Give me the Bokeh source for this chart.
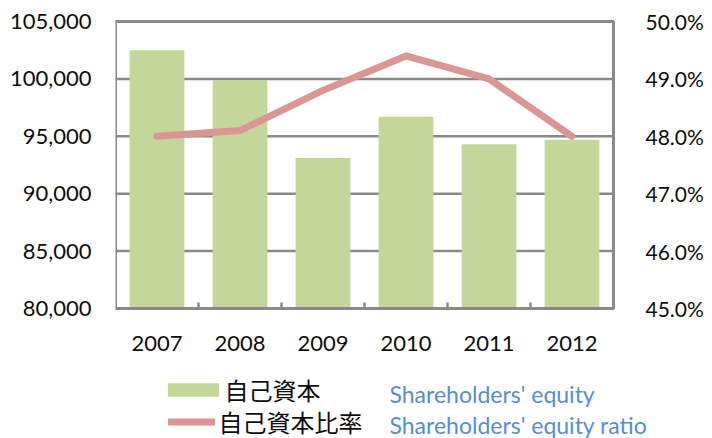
from bokeh.plotting import figure
from bokeh.models import (Range1d, LinearAxis, FixedTicker, NumeralTickFormatter,
                          PrintfTickFormatter, Label, Legend, LegendItem)
from bokeh.embed import file_html
from bokeh.resources import INLINE

# ---- data ----
years = ["2007", "2008", "2009", "2010", "2011", "2012"]
equity = [102500, 99900, 93100, 96700, 94300, 94700]
ratio = [48.0, 48.1, 48.8, 49.4, 49.0, 48.0]
left_ticks = [80000, 85000, 90000, 95000, 100000, 105000]
right_ticks = [45, 46, 47, 48, 49, 50]
legend_jp = ["自己資本", "自己資本比率"]
legend_en = ["Shareholders' equity", "Shareholders' equity ratio"]

BAR = "#C4D79B"
LINE = "#D99694"
GRID = "#898989"
TXT = "#0d0d0d"
BLUE = "#558ED5"
FONT = "Lato"
JP = "Noto Sans CJK JP"

# ---- layout (pixels) ----
W, H = 712, 438
LEFT, TOP = 115, 21
CHART_W, CHART_H = 498, 287      # the boxed chart area
EXTRA_Y = H - TOP - CHART_H      # frame continues below for the legend
FRAME_W = W - LEFT               # frame continues right for the % axis

n = len(years)
xs = [i + 0.5 for i in range(n)]
between = [i for i in range(1, n)]

lo, hi = left_ticks[0], left_ticks[-1]
plo, phi = right_ticks[0], right_ticks[-1]
y_lo = lo - EXTRA_Y * (hi - lo) / CHART_H
y_hi = hi + TOP * (hi - lo) / CHART_H
p_lo = plo - EXTRA_Y * (phi - plo) / CHART_H
p_hi = phi + TOP * (phi - plo) / CHART_H
x_hi = n * FRAME_W / CHART_W

p = figure(width=W, height=H, output_backend="svg", toolbar_location=None,
           x_range=Range1d(0, x_hi), y_range=Range1d(y_lo, y_hi),
           min_border_left=LEFT, min_border_right=0, min_border_top=0,
           min_border_bottom=0)
p.extra_y_ranges = {"pct": Range1d(p_lo, p_hi)}

p.background_fill_color = "white"
p.border_fill_color = "white"
p.outline_line_color = None
p.grid.visible = False

# horizontal grid lines across the chart box
p.segment(x0=[0] * len(left_ticks), x1=[n] * len(left_ticks),
          y0=left_ticks, y1=left_ticks, line_color=GRID, line_width=2.5)

# bars
r_bar = p.vbar(x=xs, top=equity, bottom=lo, width=0.66,
               fill_color=BAR, line_color=None)

# chart box border
p.quad(left=[0], right=[n], bottom=[lo], top=[hi], fill_color=None,
       line_color=GRID, line_width=3)

# line
r_line = p.line(xs, ratio, y_range_name="pct", line_color=LINE, line_width=7,
                line_cap="round", line_join="round")

# left axis
ya = p.yaxis[0]
ya.ticker = FixedTicker(ticks=left_ticks)
ya.formatter = NumeralTickFormatter(format="0,0")
ya.major_tick_in = 0
ya.major_tick_out = 0
ya.minor_tick_line_color = None
ya.axis_line_color = None
ya.major_label_standoff = 24
ya.major_label_text_font = FONT
ya.major_label_text_font_size = "22px"
ya.major_label_text_color = TXT

# right axis, pinned to the chart box right edge
ra = LinearAxis(y_range_name="pct", ticker=FixedTicker(ticks=right_ticks),
                formatter=PrintfTickFormatter(format="%.1f%%"),
                fixed_location=n)
ra.major_tick_in = 0
ra.major_tick_out = 0
ra.minor_tick_line_color = None
ra.axis_line_color = None
ra.major_label_standoff = 32
ra.major_label_text_font = FONT
ra.major_label_text_font_size = "21px"
ra.major_label_text_color = TXT
p.add_layout(ra, "right")

# bottom axis, pinned to the chart box bottom
xa = p.xaxis[0]
xa.fixed_location = lo
xa.ticker = FixedTicker(ticks=xs, minor_ticks=between)
xa.major_label_overrides = {x: y for x, y in zip(xs, years)}
xa.major_tick_in = 0
xa.major_tick_out = 0
xa.minor_tick_in = 6
xa.minor_tick_out = 0
xa.minor_tick_line_color = GRID
xa.minor_tick_line_width = 2.5
xa.axis_line_color = None
xa.major_label_standoff = 27
xa.major_label_text_font = FONT
xa.major_label_text_font_size = "22px"
xa.major_label_text_color = TXT

# legends
common = dict(padding=0, margin=0, spacing=0, border_line_color=None,
              background_fill_alpha=0, label_text_font=JP,
              label_text_font_size="24px", label_text_color=TXT)
lg1 = Legend(items=[LegendItem(label=legend_jp[0], renderers=[r_bar])],
             location=(45.6, 31), glyph_width=64, glyph_height=17,
             label_standoff=-4, **common)
lg2 = Legend(items=[LegendItem(label=legend_jp[1], renderers=[r_line])],
             location=(52.5, -1), glyph_width=47, glyph_height=17,
             label_standoff=4, **common)
p.add_layout(lg1, "center")
p.add_layout(lg2, "center")

for t, yy in zip(legend_en, [45, 14]):
    p.add_layout(Label(x=274, y=yy, x_units="screen", y_units="screen",
                       text=t, text_font=FONT, text_font_size="23px",
                       text_color=BLUE, text_baseline="middle"))

open("out.html", "w").write(file_html(p, INLINE))
